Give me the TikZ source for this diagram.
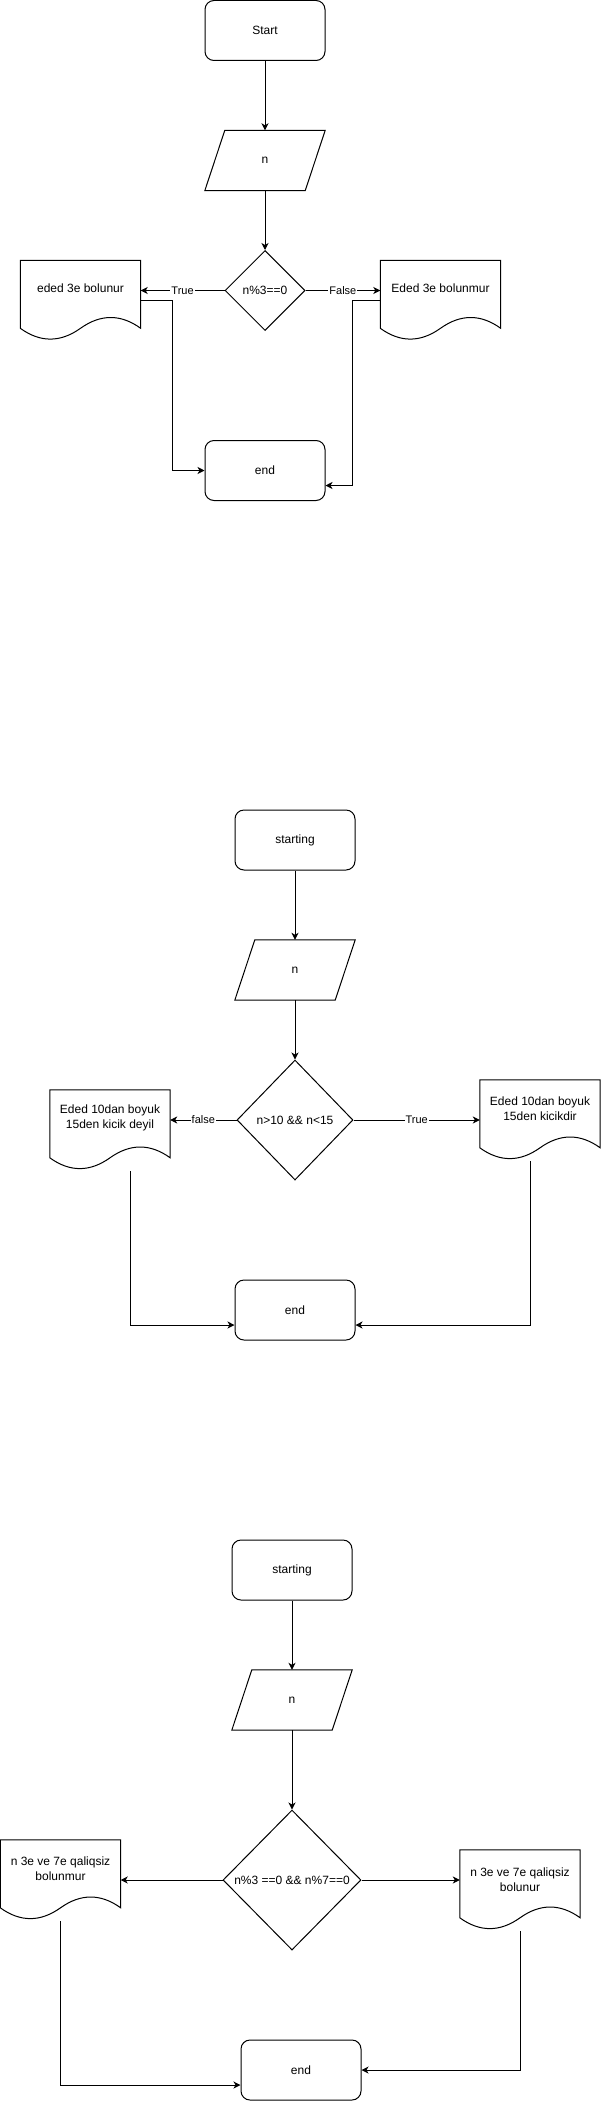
\documentclass[tikz,border=0pt]{standalone}
\usepackage{fontspec}
\setmainfont{Liberation Sans}
\usetikzlibrary{shapes.geometric,arrows.meta,calc}
\newcommand{\ioshape}[3]{%
  \node[ghost,minimum height=60pt] (#1) at (#2,#3) {n};
  \draw[shp] (#1.south west) -- ($(#1.north west)+(20,0)$) -- (#1.north east) -- ($(#1.south east)+(-20,0)$) -- cycle;
}
\newcommand{\docshape}[5]{%
  \node[ghost,minimum height=80pt] (#1) at (#2,#3+40) {};
  \draw[shp] (#1.north west) -- (#1.north east) -- ($(#1.north east)+(0,68)$)
    .. controls ($(#1.north east)+(-20,53.6)$) and ($(#1.north east)+(-40,53.6)$) .. ($(#1.north)+(0,68)$)
    .. controls ($(#1.north west)+(40,82.4)$) and ($(#1.north west)+(20,82.4)$) .. ($(#1.north west)+(0,68)$) -- cycle;
  \node[doctext] (#1t) at ($(#1.north)+(0,#4)$) {#5};
}
\begin{document}
\begin{tikzpicture}[x=1pt,y=-1pt,
  every node/.style={font=\fontsize{12}{15}\selectfont},
  shp/.style={draw=black,line width=1pt},
  term/.style={shp,rounded corners=9pt,minimum width=120pt,minimum height=60pt,inner sep=0pt},
  decis/.style={shp,diamond,inner sep=0pt},
  ghost/.style={draw=none,inner sep=0pt,minimum width=120pt},
  doctext/.style={align=center,inner sep=0pt},
  arr/.style={line width=1pt,-{Stealth[length=7pt,width=7pt,inset=2pt]}},
  elabel/.style={font=\fontsize{11}{13}\selectfont,fill=white,inner sep=1pt}]
\useasboundingbox (0,0) rectangle (601,2101);

% ---------- diagram 1 ----------
\node[term] (s1) at (265,30.5) {Start};
\ioshape{p1}{265}{160.5}
\node[decis,minimum width=80pt,minimum height=80pt] (dm1) at (265,290.5) {n\%3==0};
\docshape{d1}{80.5}{260.5}{28}{eded 3e bolunur}
\docshape{d2}{440.5}{260.5}{28}{Eded 3e bolunmur}
\node[term] (e1) at (265,470.5) {end};
\draw[arr] (s1) -- (p1);
\draw[arr] (p1) -- (dm1);
\draw[arr] (dm1.west) -- node[elabel]{True} (d1.east |- dm1.west);
\draw[arr] (dm1.east) -- node[elabel]{False} (d2.west |- dm1.east);
\draw[arr] (d1.east) -- ++(32,0) |- (e1.west);
\draw[arr] (d2.west) -- ++(-28,0) |- ($(e1.east)+(0,15)$);

% ---------- diagram 2 ----------
\node[term] (s2) at (295,840) {starting};
\ioshape{p2}{295}{970}
\node[decis,minimum width=116pt,minimum height=120pt] (dm2) at (295,1120) {n>10 \&\& n<15};
\docshape{d3}{110}{1090}{28.5}{Eded 10dan boyuk\\15den kicik deyil}
\docshape{d4}{540}{1080}{28.5}{Eded 10dan boyuk\\15den kicikdir}
\node[term] (e2) at (295,1310) {end};
\draw[arr] (s2) -- (p2);
\draw[arr] (p2) -- (dm2);
\draw[arr] (dm2.west) -- node[elabel]{false} (d3.east |- dm2.west);
\draw[arr] (dm2.east) -- node[elabel]{True} (d4.west |- dm2.east);
\draw[arr] ($(d3.south)+(20,1)$) |- ($(e2.west)+(0,15)$);
\draw[arr] ($(d4.south)+(-10,1)$) |- ($(e2.east)+(0,15)$);

% ---------- diagram 3 ----------
\node[term] (s3) at (292,1570) {starting};
\ioshape{p3}{292}{1700}
\node[decis,minimum width=138pt,minimum height=140pt] (dm3) at (292,1880) {n\%3 ==0 \&\& n\%7==0};
\docshape{d5}{60.5}{1840}{29}{n 3e ve 7e qaliqsiz\\bolunmur}
\docshape{d6}{520}{1850}{30}{n 3e ve 7e qaliqsiz\\bolunur}
\node[term] (e3) at (301,2070) {end};
\draw[arr] (s3) -- (p3);
\draw[arr] (p3) -- (dm3);
\draw[arr] (dm3.west) -- (d5.east |- dm3.west);
\draw[arr] (dm3.east) -- (d6.west |- dm3.east);
\draw[arr] ($(d5.south)+(0,1)$) |- ($(e3.west)+(0,15)$);
\draw[arr] ($(d6.south)+(0,1)$) |- (e3.east);
\end{tikzpicture}
\end{document}
